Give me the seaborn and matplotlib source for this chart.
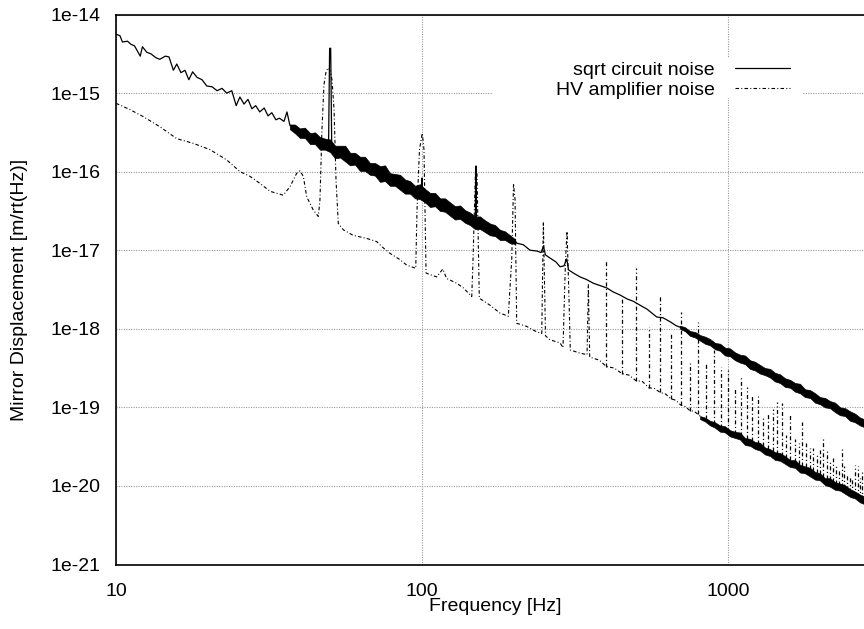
import numpy as np
import pandas as pd
import matplotlib
matplotlib.use("Agg")
import matplotlib.pyplot as plt
import seaborn as sns
from matplotlib.patches import Rectangle
from matplotlib.ticker import FixedLocator, FixedFormatter, LogLocator, NullFormatter

# ---------------- data (frequency in Hz, displacement as log10 of m/rt(Hz)) ----------------
sqrt_freq = [10.0, 10.3, 10.5, 10.9, 11.2, 11.5, 12.0, 12.2, 12.6, 13.0,
             13.5, 13.9, 14.5, 14.9, 15.4, 15.8, 16.3, 16.8, 17.3, 17.8,
             18.4, 19.1, 19.8, 20.6, 21.4, 22.2, 23.0, 23.9, 24.7, 25.4,
             26.2, 27.0, 27.8, 28.6, 29.5, 30.5, 31.4, 32.3, 33.3, 34.2,
             35.4, 36.2, 37.0,
             39.9, 43.1, 46.4, 49.5, 49.9, 50.3, 50.7, 54.0, 58.2, 62.7,
             67.6, 72.9, 78.6, 84.75, 91.4, 98.5, 99.6, 100.0, 100.4, 106.2,
             114.5, 123.4, 133.1, 143.5, 149.4, 149.8, 150.3, 150.7, 154.7, 166.8,
             179.8, 193.9, 201.4,
             203.9, 214.3, 225.4, 237.1, 244.9, 249.2, 253.3, 262.0, 274.1, 282.5,
             291.0, 297.1, 301.2, 312.2, 328.4, 343.6, 362.9, 381.7, 401.5, 421.0,
             443.7, 467.8, 490.5, 515.8, 543.6, 584.8, 613.3, 646.5, 676.3,
             696.8, 751.2, 810.0, 873.4, 941.7, 1015.0, 1094.6, 1180.0, 1272.0, 1372.0,
             1479.0, 1595.0, 1719.0, 1854.0, 1998.0, 2154.0, 2323.0, 2504.0, 2700.0, 2825.0]
sqrt_log10 = [-14.25, -14.27, -14.35, -14.34, -14.38, -14.40, -14.53, -14.41, -14.48, -14.50,
              -14.55, -14.57, -14.53, -14.54, -14.71, -14.63, -14.74, -14.71, -14.83, -14.73,
              -14.80, -14.83, -14.91, -14.92, -14.97, -14.94, -15.00, -14.97, -15.16, -15.05,
              -15.14, -15.08, -15.20, -15.16, -15.24, -15.19, -15.29, -15.25, -15.34, -15.32,
              -15.36, -15.24, -15.41,
              -15.49, -15.56, -15.62, -15.67, -14.43, -14.43, -15.70, -15.75, -15.81, -15.88,
              -15.94, -16.00, -16.07, -16.13, -16.19, -16.26, -16.27, -16.08, -16.28, -16.32,
              -16.39, -16.46, -16.52, -16.58, -16.61, -15.93, -15.93, -16.62, -16.65, -16.71,
              -16.77, -16.84, -16.87,
              -16.91, -16.93, -17.00, -17.01, -17.03, -16.95, -17.06, -17.10, -17.15, -17.21,
              -17.20, -17.11, -17.25, -17.29, -17.34, -17.37, -17.42, -17.45, -17.48, -17.53,
              -17.57, -17.62, -17.65, -17.70, -17.75, -17.85, -17.86, -17.91, -17.96,
              -17.98, -18.04, -18.10, -18.17, -18.24, -18.31, -18.37, -18.44, -18.51, -18.57,
              -18.64, -18.71, -18.78, -18.85, -18.92, -18.98, -19.04, -19.11, -19.17, -19.21]

# noise envelope of the densely sampled parts of the sqrt circuit noise
sqrt_band1_freq = [37.0, 38.4, 39.9, 41.4, 43.1, 44.7, 46.4, 48.2, 50.05, 52.0,
                   54.0, 56.1, 58.2, 60.4, 62.7, 65.1, 67.6, 70.2, 72.9, 75.7,
                   78.6, 81.6, 84.75, 88.0, 91.4, 94.9, 98.5, 102.3, 106.2, 110.3,
                   114.5, 118.9, 123.4, 128.2, 133.1, 138.2, 143.5, 149.0, 154.7, 160.7,
                   166.8, 173.2, 179.8, 186.7, 193.9, 201.4]
sqrt_band1_hi = [-15.40, -15.40, -15.45, -15.44, -15.51, -15.50, -15.56, -15.58, -15.59, -15.67,
                 -15.67, -15.67, -15.76, -15.76, -15.81, -15.81, -15.89, -15.89, -15.93, -15.92,
                 -16.02, -16.03, -16.04, -16.10, -16.12, -16.18, -16.16, -16.22, -16.27, -16.27,
                 -16.34, -16.34, -16.39, -16.44, -16.43, -16.49, -16.52, -16.57, -16.57, -16.62,
                 -16.66, -16.68, -16.74, -16.76, -16.81, -16.86]
sqrt_band1_lo = [-15.46, -15.51, -15.57, -15.57, -15.65, -15.65, -15.72, -15.72, -15.75, -15.83,
                 -15.82, -15.87, -15.92, -15.91, -15.99, -15.99, -16.04, -16.05, -16.13, -16.12,
                 -16.18, -16.18, -16.23, -16.28, -16.28, -16.34, -16.35, -16.39, -16.45, -16.44,
                 -16.50, -16.51, -16.56, -16.61, -16.60, -16.65, -16.68, -16.73, -16.73, -16.77,
                 -16.81, -16.82, -16.87, -16.87, -16.91, -16.92]
sqrt_band2_freq = [696.8, 723.5, 751.2, 780.0, 810.0, 841.0, 873.4, 906.9, 941.7, 977.8,
                   1015.0, 1054.0, 1094.6, 1136.5, 1180.0, 1225.0, 1272.0, 1321.0, 1372.0, 1424.0,
                   1479.0, 1536.0, 1595.0, 1656.0, 1719.0, 1785.0, 1854.0, 1925.0, 1998.0, 2075.0,
                   2154.0, 2237.0, 2323.0, 2412.0, 2504.0, 2600.0, 2700.0, 2825.0]
sqrt_band2_hi = [-17.96, -17.98, -18.03, -18.04, -18.08, -18.10, -18.13, -18.18, -18.19, -18.24,
                 -18.25, -18.30, -18.33, -18.34, -18.40, -18.42, -18.46, -18.50, -18.51, -18.56,
                 -18.58, -18.63, -18.65, -18.69, -18.70, -18.77, -18.78, -18.82, -18.87, -18.88,
                 -18.92, -18.94, -19.00, -19.01, -19.05, -19.08, -19.13, -19.16]
sqrt_band2_lo = [-18.00, -18.03, -18.09, -18.11, -18.15, -18.19, -18.21, -18.26, -18.28, -18.34,
                 -18.35, -18.40, -18.43, -18.45, -18.51, -18.53, -18.57, -18.59, -18.62, -18.67,
                 -18.69, -18.74, -18.75, -18.80, -18.82, -18.87, -18.88, -18.94, -18.96, -19.00,
                 -19.01, -19.06, -19.10, -19.11, -19.17, -19.19, -19.23, -19.26]

hv_freq = [10.0, 11.1, 12.28, 13.93, 15.79, 17.89, 20.28, 22.99, 25.42, 27.41,
           29.55, 31.86, 35.22, 37.04, 38.95, 39.93, 40.94, 42.0, 44.14, 45.83,
           46.4, 47.1, 47.8, 48.56, 49.3, 50.05, 50.8, 51.6, 52.36, 53.27,
           55.3, 59.5, 65.96, 71.1, 74.7, 78.6, 84.75, 89.1, 95.4, 96.3,
           98.1, 100.2, 101.5, 103.1, 106.2, 111.7, 116.9, 120.4, 129.8, 136.5,
           145.4, 146.8, 149.6, 151.3, 153.9, 166.8, 179.8, 191.4, 196.4, 199.1,
           201.4, 203.9, 219.9, 237.1, 246.2, 249.2, 253.3, 262.0, 282.5, 288.9,
           294.4, 297.8, 302.3, 305.2, 328.4, 346.2, 349.6, 353.2, 380.0, 400.0,
           425.0, 450.0, 475.0, 500.0, 525.0, 550.0, 575.0, 600.0, 625.0, 650.0,
           675.0, 700.0, 725.0, 750.0, 775.0, 810.0, 873.4, 941.7, 1015.0, 1094.6,
           1180.0, 1272.0, 1372.0, 1479.0, 1595.0, 1719.0, 1854.0, 1998.0, 2154.0, 2323.0,
           2504.0, 2700.0, 2825.0]
hv_log10 = [-15.13, -15.21, -15.30, -15.43, -15.58, -15.64, -15.72, -15.85, -16.00, -16.06,
            -16.15, -16.25, -16.30, -16.19, -16.02, -15.99, -16.06, -16.32, -16.49, -16.57,
            -16.36, -15.47, -14.90, -14.73, -14.68, -14.71, -14.83, -15.22, -16.11, -16.66,
            -16.74, -16.81, -16.85, -16.89, -16.97, -17.04, -17.12, -17.19, -17.23, -16.49,
            -15.72, -15.51, -15.72, -17.29, -17.31, -17.34, -17.24, -17.36, -17.42, -17.48,
            -17.59, -17.12, -15.95, -16.04, -17.61, -17.70, -17.80, -17.84, -17.12, -16.15,
            -16.36, -17.93, -17.97, -18.04, -18.06, -16.64, -18.09, -18.14, -18.18, -18.24,
            -17.12, -16.76, -17.63, -18.27, -18.31, -18.33, -17.44, -18.36, -18.40, -18.48,
            -18.50, -18.57, -18.59, -18.66, -18.67, -18.75, -18.76, -18.81, -18.83, -18.89,
            -18.91, -18.97, -18.99, -19.04, -19.05, -19.11, -19.20, -19.26, -19.32, -19.39,
            -19.45, -19.52, -19.58, -19.64, -19.71, -19.77, -19.83, -19.90, -19.96, -20.02,
            -20.09, -20.15, -20.19]

hv_band_freq = [810.0, 841.0, 873.4, 906.9, 941.7, 977.8, 1015.0, 1054.0, 1094.6, 1136.5,
                1180.0, 1225.0, 1272.0, 1321.0, 1372.0, 1424.0, 1479.0, 1536.0, 1595.0, 1656.0,
                1719.0, 1785.0, 1854.0, 1925.0, 1998.0, 2075.0, 2154.0, 2237.0, 2323.0, 2412.0,
                2504.0, 2600.0, 2700.0, 2825.0]
hv_band_hi = [-19.11, -19.13, -19.17, -19.19, -19.23, -19.24, -19.29, -19.31, -19.32, -19.39,
              -19.40, -19.44, -19.45, -19.51, -19.53, -19.57, -19.58, -19.62, -19.67, -19.67,
              -19.73, -19.75, -19.77, -19.82, -19.84, -19.90, -19.90, -19.95, -19.97, -19.99,
              -20.04, -20.07, -20.11, -20.14]
hv_band_lo = [-19.15, -19.18, -19.23, -19.26, -19.31, -19.32, -19.37, -19.39, -19.41, -19.48,
              -19.49, -19.53, -19.55, -19.60, -19.62, -19.67, -19.68, -19.72, -19.76, -19.77,
              -19.83, -19.84, -19.88, -19.92, -19.93, -19.99, -20.01, -20.05, -20.06, -20.10,
              -20.14, -20.16, -20.21, -20.24]

# mains-harmonic lines of the HV amplifier noise above 350 Hz
hv_spike_freq = [400, 450, 500, 550, 600, 650, 700, 750, 800, 850,
                 900, 950, 1000, 1050, 1100, 1150, 1200, 1250, 1300, 1350,
                 1400, 1450, 1500, 1550, 1600, 1650, 1700, 1750, 1800, 1850,
                 1900, 1950, 2000, 2050, 2100, 2150, 2200, 2250, 2300, 2350,
                 2400, 2450, 2500, 2550, 2600, 2650, 2700, 2750]
hv_spike_top = [-17.12, -17.61, -17.23, -17.98, -17.57, -18.05, -17.78, -18.44, -17.91, -18.42,
                -18.27, -18.48, -18.52, -18.76, -18.61, -18.74, -18.86, -18.86, -19.12, -19.07,
                -19.02, -18.93, -18.95, -19.35, -19.10, -19.40, -19.45, -19.18, -19.45, -19.52,
                -19.52, -19.60, -19.54, -19.38, -19.54, -19.70, -19.65, -19.73, -19.80, -19.53,
                -19.75, -19.85, -19.88, -19.90, -19.73, -19.75, -19.90, -19.80]
hv_spike_base = [-18.48, -18.57, -18.66, -18.75, -18.81, -18.89, -18.97, -19.04, -19.08, -19.15,
                 -19.21, -19.26, -19.31, -19.34, -19.36, -19.40, -19.43, -19.46, -19.49, -19.53,
                 -19.55, -19.59, -19.62, -19.65, -19.67, -19.70, -19.72, -19.74, -19.76, -19.78,
                 -19.81, -19.83, -19.85, -19.88, -19.91, -19.93, -19.95, -19.97, -19.99, -20.01,
                 -20.03, -20.05, -20.08, -20.10, -20.13, -20.14, -20.16, -20.18]

y_tick_exponents = [-14, -15, -16, -17, -18, -19, -20, -21]
y_tick_labels = ["1e-14", "1e-15", "1e-16", "1e-17", "1e-18", "1e-19", "1e-20", "1e-21"]
x_tick_values = [10, 100, 1000]
x_tick_labels = ["10", "100", "1000"]

# ---------------- figure ----------------
sns.set_theme(style="white")
plt.rcParams["font.family"] = ["Liberation Sans", "DejaVu Sans"]
FS = 14
DASHDOT = (0, (3.2, 2.0, 0.9, 2.0))

fig = plt.figure(figsize=(8.64, 6.29), dpi=100)
W, H = 864.0, 629.0
ax = fig.add_axes([116 / W, (H - 564.5) / H, 748 / W, 550 / H])
ax.set_xscale("log")
ax.set_yscale("log")

df_sqrt = pd.DataFrame({"Frequency": sqrt_freq, "Displacement": 10.0 ** np.array(sqrt_log10)})
df_hv = pd.DataFrame({"Frequency": hv_freq, "Displacement": 10.0 ** np.array(hv_log10)})

sns.lineplot(data=df_sqrt, x="Frequency", y="Displacement", ax=ax, color="black",
             linewidth=0.9, estimator=None, sort=False, label="sqrt circuit noise", zorder=3)
sns.lineplot(data=df_hv, x="Frequency", y="Displacement", ax=ax, color="black",
             linewidth=0.8, linestyle=DASHDOT, estimator=None, sort=False,
             label="HV amplifier noise", zorder=3)

ax.fill_between(sqrt_band1_freq, 10.0 ** np.array(sqrt_band1_lo), 10.0 ** np.array(sqrt_band1_hi),
                color="black", linewidth=0.5, zorder=3)
ax.fill_between(sqrt_band2_freq, 10.0 ** np.array(sqrt_band2_lo), 10.0 ** np.array(sqrt_band2_hi),
                color="black", linewidth=0.5, zorder=3)
ax.fill_between(hv_band_freq, 10.0 ** np.array(hv_band_lo), 10.0 ** np.array(hv_band_hi),
                color="black", linewidth=0.4, zorder=3)
ax.vlines(hv_spike_freq, 10.0 ** np.array(hv_spike_base), 10.0 ** np.array(hv_spike_top),
          colors="black", linestyles=[DASHDOT], linewidth=0.9, zorder=3)

ax.set_xlim(10, 2782)
ax.set_ylim(1e-21, 1e-14)

ax.xaxis.set_major_locator(FixedLocator(x_tick_values))
ax.xaxis.set_major_formatter(FixedFormatter(x_tick_labels))
ax.xaxis.set_minor_locator(LogLocator(base=10, subs=np.arange(2, 10), numticks=20))
ax.xaxis.set_minor_formatter(NullFormatter())
ax.yaxis.set_major_locator(FixedLocator([10.0 ** e for e in y_tick_exponents]))
ax.yaxis.set_major_formatter(FixedFormatter(y_tick_labels))
ax.yaxis.set_minor_locator(LogLocator(base=10, subs=np.arange(2, 10), numticks=20))
ax.yaxis.set_minor_formatter(NullFormatter())

ax.tick_params(axis="both", which="major", direction="in", length=5, width=0.9,
               color="black", labelsize=FS, labelcolor="black", top=False, right=False)
ax.tick_params(axis="both", which="minor", direction="in", length=2.6, width=0.8,
               color="black", top=False, right=False)
ax.tick_params(axis="x", which="major", pad=13)
ax.tick_params(axis="y", which="major", pad=11)

ax.set_axisbelow(True)
ax.grid(which="major", color="#9a9a9a", linestyle=(0, (1, 1.2)), linewidth=0.8)
ax.grid(which="minor", visible=False)

for side in ["left", "bottom", "top"]:
    ax.spines[side].set_color("black")
    ax.spines[side].set_linewidth(1.2)
ax.spines["right"].set_visible(False)

ax.set_xlabel("Frequency [Hz]", fontsize=FS, color="black")
ax.set_ylabel("Mirror Displacement [m/rt(Hz)]", fontsize=FS, color="black")
ax.xaxis.set_label_coords(0.507, -0.061)
ax.yaxis.set_label_coords(-0.118, 0.5)

# opaque key area (hides the grid behind the key, as in the original)
ax.add_patch(Rectangle((0.504, 0.848), 0.414, 0.073, transform=ax.transAxes,
                       facecolor="white", edgecolor="none", zorder=1.5))
leg = ax.legend(loc="upper right", bbox_to_anchor=(0.901, 0.915), frameon=False,
                markerfirst=False, fontsize=FS, handlelength=2.85, handletextpad=1.0,
                labelspacing=0.12, borderpad=0.0, borderaxespad=0.0)
for t in leg.get_texts():
    t.set_color("black")

fig.savefig("out.png", dpi=100, facecolor="white")
